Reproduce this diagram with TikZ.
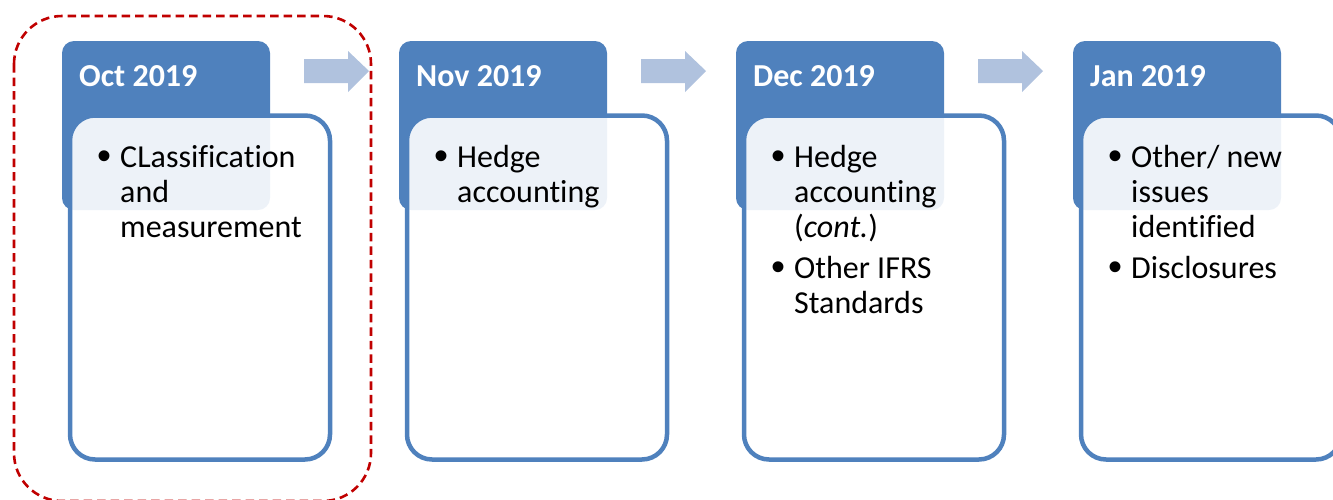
\documentclass[tikz,border=0pt]{standalone}
\usepackage{fontspec}
\setmainfont[Ligatures=NoCommon]{Carlito}
\newfontfamily\bulfont{Liberation Sans}
\definecolor{hdr}{HTML}{4F81BD}
\definecolor{arr}{HTML}{B0C2DE}
\definecolor{dred}{HTML}{C00000}
\newcommand{\bul}{\makebox[23pt][l]{\raisebox{-2.7pt}{\scalebox{1.25}{\bulfont\textbullet}}}}
\begin{document}
\begin{tikzpicture}[x=1pt,y=-1pt,
  hdrbox/.style={fill=hdr, rounded corners=12pt, minimum width=208pt, minimum height=169pt, anchor=north west, inner sep=0pt, outer sep=0pt},
  bodybox/.style={draw=hdr, line width=4.5pt, fill=white, fill opacity=0.9, rounded corners=25pt, minimum width=260pt, minimum height=344pt, anchor=north west, inner sep=0pt, outer sep=0pt},
  hdrtext/.style={anchor=base west, inner sep=0pt, text=white, font=\fontsize{32}{35}\selectfont\bfseries},
  bodytext/.style={anchor=base west, inner sep=0pt, font=\fontsize{32}{35}\selectfont},
  blockarrow/.style={fill=arr},
  focus/.style={draw=dred, line width=2.6pt, dash pattern=on 8.5pt off 5pt, rounded corners=48pt}]
\useasboundingbox (0,0) rectangle (1333,499);

% panel 1
\node[hdrbox] (h1) at (62,41) {};
\node[bodybox] (b1) at (70,115.5) {};
\node[hdrtext] (t1) at (79,86) {Oct 2019};
\node[bodytext] (c1) at (97,167) {\begin{tabular}[t]{@{}l@{}l@{}}\bul & CLassification\\ & and\\ & measurement\end{tabular}};

% panel 2
\node[hdrbox] (h2) at (399,41) {};
\node[bodybox] (b2) at (407,115.5) {};
\node[hdrtext] (t2) at (416,86) {Nov 2019};
\node[bodytext] (c2) at (434,167) {\begin{tabular}[t]{@{}l@{}l@{}}\bul & Hedge\\ & accounting\end{tabular}};

% panel 3
\node[hdrbox] (h3) at (736,41) {};
\node[bodybox] (b3) at (744,115.5) {};
\node[hdrtext] (t3) at (753,86) {Dec 2019};
\node[bodytext] (c3) at (771,167) {\begin{tabular}[t]{@{}l@{}l@{}}\bul & Hedge\\ & accounting\\ & (\textit{cont.})\\[6pt] \bul & Other IFRS\\ & Standards\end{tabular}};

% panel 4
\node[hdrbox] (h4) at (1073,41) {};
\node[bodybox] (b4) at (1081,115.5) {};
\node[hdrtext] (t4) at (1090,86) {Jan 2019};
\node[bodytext] (c4) at (1108,167) {\begin{tabular}[t]{@{}l@{}l@{}}\bul & Other/ new\\ & issues\\ & identified\\[6pt] \bul & Disclosures\end{tabular}};

% block arrows
\foreach \dx in {0,337,674}{
  \fill[blockarrow] (304+\dx,59) -- (348+\dx,59) -- (348+\dx,51) -- (369+\dx,71) -- (348+\dx,92) -- (348+\dx,83) -- (304+\dx,83) -- cycle;
}

% focus frame
\draw[focus] (14,16) rectangle (371,501);
\end{tikzpicture}
\end{document}
